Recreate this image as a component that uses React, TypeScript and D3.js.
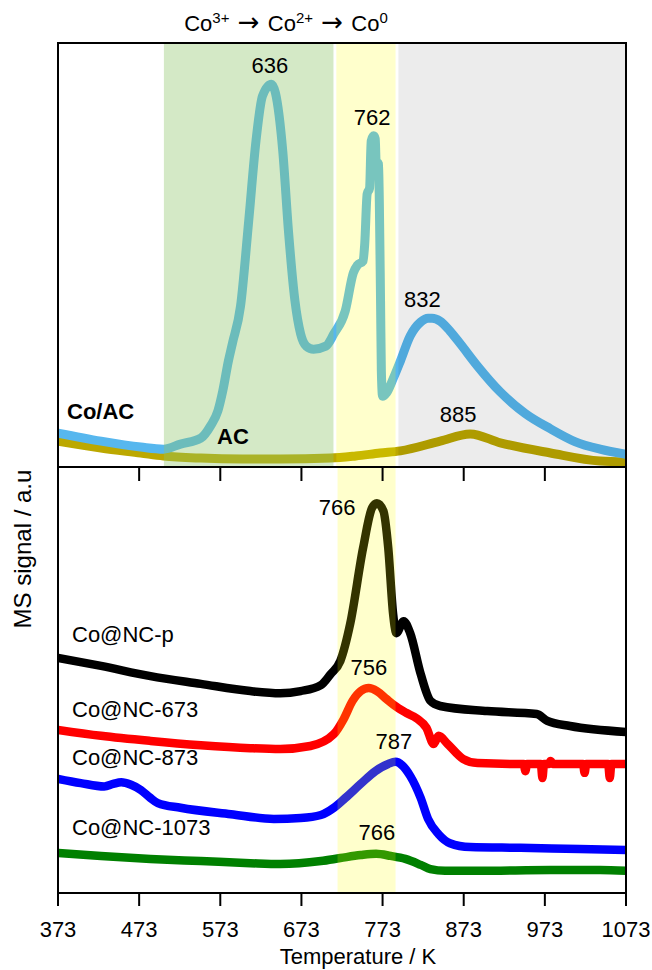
import React from "react";
import * as d3 from "d3";

// ---------- data ----------
const xTicks = [373, 473, 573, 673, 773, 873, 973, 1073];

// Top panel (Co/AC and AC)
const coACTemp = [373, 426, 475, 503, 524, 549, 561, 570, 576, 583, 588, 598, 608, 617, 625, 636, 641, 650, 657, 665, 672, 679, 688, 703, 713, 727, 737, 742, 749, 751, 754, 757, 759, 762, 764, 765, 768, 769, 770.5, 771.5, 773, 778, 786, 795, 807, 820, 829, 834, 844, 856, 869, 890, 918, 949, 980, 1010, 1041, 1073];
const coACSignal = [8.0, 6.1, 4.7, 4.2, 5.4, 6.8, 9.7, 13.2, 17.9, 25, 29.2, 38, 58, 76.9, 87.5, 90.3, 88.2, 74.5, 55.7, 39.2, 31.4, 28.5, 27.8, 28.5, 31.4, 36.8, 45.8, 47.6, 48.6, 52.6, 64.4, 65.8, 76.9, 78.1, 77.4, 72.2, 71.5, 62.7, 39.2, 22.6, 16.7, 17.5, 20.8, 25, 30.9, 34.2, 35.1, 35.1, 34.4, 32.1, 29, 23.8, 17.7, 12.6, 9.0, 6.0, 4.2, 3.0];

const acTemp = [373, 426, 475, 503, 549, 600, 647, 709, 740, 770, 795, 844, 881, 918, 980, 1041, 1073];
const acSignal = [6.1, 4.5, 3.3, 2.6, 2.1, 1.9, 1.9, 2.1, 2.6, 3.3, 3.8, 6.1, 7.8, 5.7, 3.3, 1.4, 1.2];

// Bottom panel
const ncPTemp = [373, 426, 487, 549, 610, 647, 672, 697, 709, 721, 733, 749, 760, 766, 774, 780, 786, 790, 799, 807, 820, 832, 844, 902, 963, 976, 1004, 1073];
const ncPSignal = [55.2, 53.3, 50.9, 49.1, 47.4, 46.9, 47.4, 48.8, 51.4, 54.5, 63.1, 81, 90.4, 91.5, 89.7, 81, 65.5, 61, 63.8, 61, 51.4, 45.1, 43.9, 42.7, 42, 40.4, 39.2, 37.8];

const nc673Temp = [373, 426, 487, 549, 610, 647, 684, 713, 725, 736, 746, 756, 766, 778, 790, 802, 815, 827, 836, 842, 853, 872, 890, 934, 947, 949, 951, 968, 970, 972, 978, 980, 983, 1020, 1022, 1024, 1051, 1053, 1055, 1073];
const nc673Signal = [38.3, 36.9, 35.7, 34.7, 34, 33.8, 34.5, 37.3, 40.8, 45.1, 47.4, 48.1, 47.4, 45.5, 43.7, 42.3, 41.0, 38.8, 35, 36.9, 35, 31.5, 30.5, 30.3, 30.3, 28.6, 30.3, 30.3, 27, 30.3, 30.3, 31, 30.3, 30.3, 28.2, 30.3, 30.3, 27, 30.3, 30.3];

const nc873Temp = [373, 401, 430, 441, 451, 463, 475, 487, 496, 524, 586, 639, 672, 697, 713, 727, 746, 764, 780, 789, 797, 807, 820, 829, 842, 856, 881, 943, 1016, 1073];
const nc873Signal = [26.8, 25.8, 25.0, 25.6, 26.0, 25.4, 24.2, 22.3, 21.1, 20, 18.5, 17.4, 17.6, 18.3, 20, 22.3, 25.6, 28.6, 30.3, 30.8, 30, 27.5, 22.3, 17.4, 13.8, 11.7, 10.8, 10.6, 10.3, 10.1];

const nc1073Temp = [373, 426, 487, 549, 610, 647, 697, 721, 746, 765, 783, 801, 820, 832, 850, 893, 980, 1041, 1073];
const nc1073Signal = [9.4, 8.7, 8, 7.5, 7, 6.8, 7.5, 8.2, 8.9, 9.2, 8.7, 8, 6.6, 5.6, 5.2, 5.2, 5.4, 5.4, 5.2];

// Shaded regions (temperature ranges)
const greenBand = [503.5, 712.5];
const yellowBandTop = [716, 789];
const greyBand = [792.5, 1073];
const yellowBandBottom = [717.5, 789];

// Peak annotations [T position, value, label]
const topPeaks: [number, number, string][] = [
  [634, 90.3, "636"],
  [760, 78.1, "762"],
  [822, 35.1, "832"],
  [866, 7.8, "885"],
];
const bottomPeaks: [number, number, string][] = [
  [717, 91.5, "766"],
  [756, 48.1, "756"],
  [787, 30.8, "787"],
  [766, 9.2, "766"],
];

const bottomSeries = [
  { name: "Co@NC-p", t: ncPTemp, v: ncPSignal, color: "#000000" },
  { name: "Co@NC-673", t: nc673Temp, v: nc673Signal, color: "#ff0000" },
  { name: "Co@NC-873", t: nc873Temp, v: nc873Signal, color: "#0000ff" },
  { name: "Co@NC-1073", t: nc1073Temp, v: nc1073Signal, color: "#008000" },
];

// ---------- layout ----------
const W = 652, H = 970;
const L = 58, R = 626, TOP = 43, MID = 467, BOT = 893;
const FONT = "'Liberation Sans', Arial, sans-serif";
const FS = 22;

export default function App() {
  const x = d3.scaleLinear().domain([373, 1073]).range([L, R]);
  const yTop = d3.scaleLinear().domain([0, 100]).range([MID, TOP]);
  const yBot = d3.scaleLinear().domain([0, 100]).range([BOT, MID]);

  const mkLine = (y: d3.ScaleLinear<number, number>) =>
    d3.line<[number, number]>().x((d) => x(d[0])).y((d) => y(d[1])).curve(d3.curveMonotoneX);
  const lineTop = mkLine(yTop);
  const lineBot = mkLine(yBot);
  const zip = (t: number[], v: number[]) => t.map((tt, i) => [tt, v[i]] as [number, number]);

  const band = (r: number[], y0: number, y1: number, fill: string, op: number, key: string) => (
    <rect key={key} x={x(r[0])} y={y0} width={x(r[1]) - x(r[0])} height={y1 - y0} fill={fill} fillOpacity={op} />
  );

  const nameLabelY = [642, 717, 765, 835];
  const bottomPeakDy = [12, -13, -13, -14];
  const topPeakDy = [-11, -11, -11, -12];
  const ARROW = "'DejaVu Sans', sans-serif";

  return (
    <svg width={W} height={H} style={{ position: "absolute", left: 0, top: 0, background: "#fff" }} fontFamily={FONT}>
      <rect x={0} y={0} width={W} height={H} fill="#fff" />
      <defs>
        <clipPath id="clipTop"><rect x={L} y={TOP} width={R - L} height={MID - TOP} /></clipPath>
        <clipPath id="clipBot"><rect x={L} y={MID} width={R - L} height={BOT - MID} /></clipPath>
      </defs>
      {/* ---- top panel ---- */}
      <g clipPath="url(#clipTop)">
        <path d={lineTop(zip(acTemp, acSignal)) || ""} fill="none" stroke="#bca800" strokeWidth={9} strokeLinecap="round" strokeLinejoin="round" />
        <path d={lineTop(zip(coACTemp, coACSignal)) || ""} fill="none" stroke="#57b7ee" strokeWidth={9} strokeLinecap="round" strokeLinejoin="round" />
        {band(greenBand, TOP, MID, "#8fc46a", 0.38, "g")}
        {band(yellowBandTop, TOP, MID, "#ffff00", 0.2, "y")}
        {band(greyBand, TOP, MID, "#000000", 0.075, "gr")}
      </g>
      <rect x={L} y={TOP} width={R - L} height={MID - TOP} fill="none" stroke="#000" strokeWidth={2} />
      {topPeaks.map(([t, v, s], i) => (
        <text key={"tp" + i} x={x(t)} y={yTop(v) + topPeakDy[i]} textAnchor="middle" fontSize={FS} fill="#000">{s}</text>
      ))}
      <text x={67} y={419} fontSize={FS} fontWeight="bold">Co/AC</text>
      <text x={217} y={444} fontSize={FS} fontWeight="bold">AC</text>

      {/* ---- bottom panel ---- */}
      <g clipPath="url(#clipBot)">
        {bottomSeries.map((s) => (
          <path key={s.name} d={lineBot(zip(s.t, s.v)) || ""} fill="none" stroke={s.color} strokeWidth={8.5} strokeLinecap="round" strokeLinejoin="round" />
        ))}
        {band(yellowBandBottom, MID, BOT, "#ffff00", 0.2, "yb")}
      </g>
      {bottomSeries.map((s, i) => (
        <text key={"n" + i} x={72} y={nameLabelY[i]} fontSize={FS}>{s.name}</text>
      ))}
      {bottomPeaks.map(([t, v, s], i) => (
        <text key={"bp" + i} x={x(t)} y={yBot(v) + bottomPeakDy[i]} textAnchor="middle" fontSize={FS}>{s}</text>
      ))}
      <rect x={L} y={MID} width={R - L} height={BOT - MID} fill="none" stroke="#000" strokeWidth={2} />

      {xTicks.map((t) => (
        <g key={"t" + t}>
          <line x1={x(t)} x2={x(t)} y1={MID} y2={MID + 14} stroke="#000" strokeWidth={2} />
          <line x1={x(t)} x2={x(t)} y1={BOT} y2={BOT + 13} stroke="#000" strokeWidth={2} />
          <text x={x(t)} y={937} textAnchor="middle" fontSize={FS}>{t}</text>
        </g>
      ))}
      <text x={358} y={964} textAnchor="middle" fontSize={FS}>Temperature / K</text>
      <text transform={`translate(31,549) rotate(-90)`} textAnchor="middle" fontSize={24}>MS signal / a.u</text>

      {/* title */}
      <text x={286} y={31} textAnchor="middle" fontSize={22}>
        Co<tspan fontSize={15} dy={-8}>3+</tspan>
        <tspan dy={8} fontFamily={ARROW} fontSize={26}> → </tspan>
        <tspan>Co</tspan><tspan fontSize={15} dy={-8}>2+</tspan>
        <tspan dy={8} fontFamily={ARROW} fontSize={26}> → </tspan>
        <tspan>Co</tspan><tspan fontSize={15} dy={-8}>0</tspan>
      </text>
    </svg>
  );
}
